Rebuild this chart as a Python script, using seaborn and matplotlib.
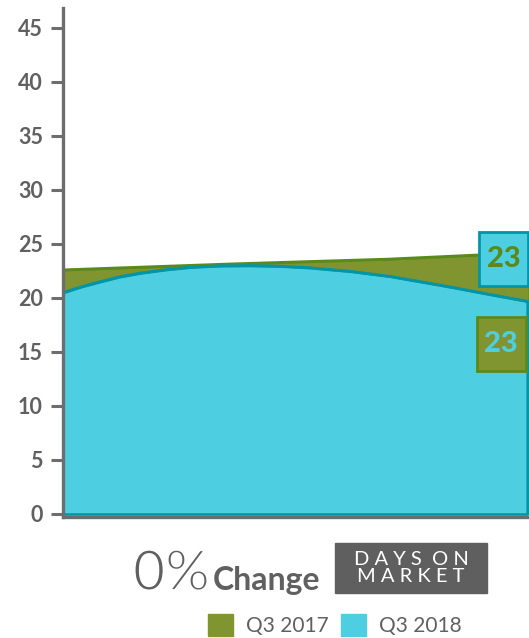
import seaborn as sns
import matplotlib.pyplot as plt
import matplotlib.patheffects as pe
from matplotlib.patches import Patch, Rectangle

sns.set_style('white')
plt.rcParams['font.family'] = ['Lato', 'DejaVu Sans']

olive = "#80952f"
olive_edge = "#5b8a1c"
blue = "#4dcfe1"
blue_edge = "#0096a8"
grey = "#606060"

# Q3 2017 (olive) and Q3 2018 (blue) days on market
x_2017 = [0.0, 0.36, 0.70, 0.90, 1.0]
days_2017 = [22.6, 23.15, 23.6, 24.0, 24.2]
x_2018 = [0.0, 0.04, 0.079, 0.12, 0.165, 0.22, 0.273, 0.335, 0.401, 0.465,
          0.530, 0.62, 0.702, 0.788, 0.84, 0.895, 0.945, 0.996]
days_2018 = [20.5, 21.05, 21.5, 21.95, 22.3, 22.62, 22.85, 22.98, 23.0, 22.95,
             22.8, 22.45, 22.0, 21.35, 20.95, 20.5, 20.1, 19.7]
yticks = [0, 5, 10, 15, 20, 25, 30, 35, 40, 45]
labels = ["Q3 2017", "Q3 2018"]
value_2017 = 23
value_2018 = 23
change = "0%"

fig = plt.figure(figsize=(5.29, 6.38), dpi=100)
ax = fig.add_axes([63 / 529, 121 / 638, 466 / 529, 509 / 638])

ax.fill_between(x_2017, days_2017, 0, color=olive, edgecolor=olive_edge, linewidth=1.5)
ax.fill_between(x_2018, days_2018, 0, color=blue, edgecolor=blue_edge, linewidth=1.8)
sns.lineplot(x=x_2017, y=days_2017, color=olive_edge, linewidth=2, ax=ax)
sns.lineplot(x=x_2018, y=days_2018, color=blue_edge, linewidth=2, ax=ax)

ax.set_xlim(0, 1)
ax.set_ylim(-0.28, 46.85)
ax.set_xticks([])
ax.set_yticks(yticks)
ax.set_yticklabels([str(v) for v in yticks], fontsize=15.5, fontweight='bold', color=grey)
ax.tick_params(axis='y', length=8.5, width=2.2, color="#6d6d6d", pad=6, left=True)
for s in ['top', 'right']:
    ax.spines[s].set_visible(False)
for s in ['left', 'bottom']:
    ax.spines[s].set_color("#6d6d6d")
    ax.spines[s].set_linewidth(2.4)

# value labels: boxes sized in data units (49 px wide, 54 px tall)
box_w, box_h = 0.105, 5.0
for cx, cy, fc, ec, tc, val in [(0.945, 23.6, blue, blue_edge, olive_edge, value_2017),
                                (0.94, 15.75, olive, olive_edge, blue, value_2018)]:
    ax.add_patch(Rectangle((cx - box_w / 2, cy - box_h / 2), box_w, box_h,
                           fc=fc, ec=ec, lw=2, zorder=5))
    ax.text(cx, cy, str(val), ha='center', va='center', fontsize=21,
            fontweight='black', color=tc, zorder=6)

# bottom headline (regular weight thinned with a white outline)
fig.text(133 / 529, 48 / 638, change, fontsize=40, fontweight='normal', color=grey,
         ha='left', va='baseline',
         path_effects=[pe.Normal(), pe.Stroke(linewidth=1.3, foreground='white')])
fig.text(213 / 529, 48 / 638, "Change", fontsize=23, fontweight='bold', color=grey,
         ha='left', va='baseline')
fig.patches.append(Rectangle((335 / 529, 45 / 638), 152 / 529, 50 / 638,
                             transform=fig.transFigure, color="#5f5f5f"))
fig.text(411 / 529, 70 / 638, "D A Y S  O N\nM A R K E T",
         fontsize=14.5, color="white", ha='center', va='center', linespacing=0.95)

handles = [Patch(color=olive), Patch(color=blue)]
fig.legend(handles, labels, loc='center left', bbox_to_anchor=(198 / 529, 13 / 638),
           ncol=2, frameon=False, fontsize=15, handlelength=1.2, handleheight=1.2,
           handletextpad=0.6, columnspacing=0.6, borderpad=0, labelcolor=grey)

fig.savefig("out.png", dpi=100)
